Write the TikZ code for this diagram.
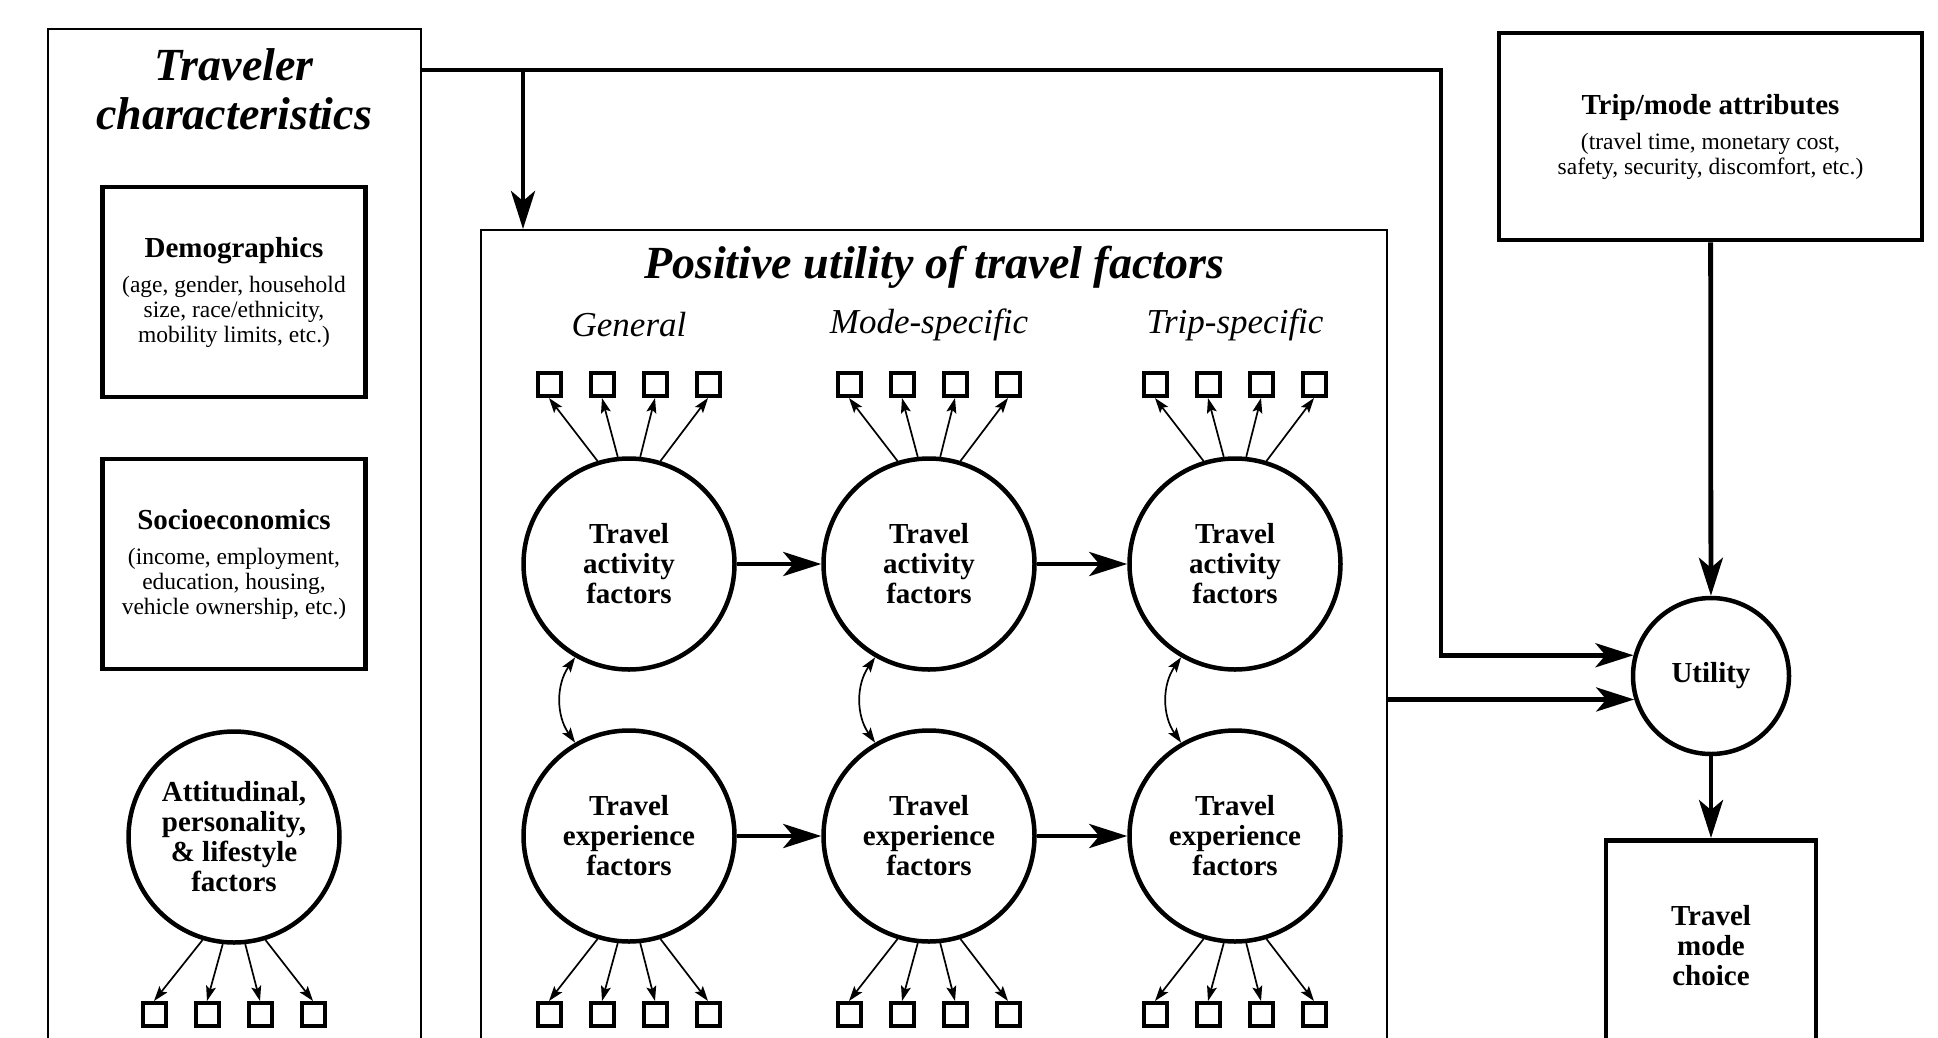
\documentclass[tikz,border=0pt]{standalone}
\usepackage{fontspec}
\setmainfont{Liberation Serif}
\usetikzlibrary{arrows.meta, positioning, calc}

\newcommand{\boxhead}{\fontsize{29}{30}\selectfont\bfseries}
\newcommand{\boxsub}{\fontsize{23.5}{25}\selectfont}
\newcommand{\bigtitle}{\fontsize{46}{49}\selectfont\bfseries\itshape}
\newcommand{\coltitle}{\fontsize{35}{40}\selectfont\itshape}

\tikzset{
  outerbox/.style={draw, line width=2pt, inner sep=0pt},
  factorbox/.style={draw, line width=4.5pt, align=center, font=\boxsub, inner sep=4pt},
  latent/.style={circle, draw, line width=4.5pt, minimum size=211pt, align=center, font=\boxhead, inner sep=0pt},
  indic/.style={draw, line width=4pt, minimum size=23pt, inner sep=0pt},
  flow/.style={line width=4.8pt, -{Stealth[length=38pt, width=24pt, inset=10pt]}},
  load/.style={line width=1.7pt, -{Stealth[length=15pt, width=10pt, inset=3pt]}},
  corr/.style={line width=1.7pt, {Stealth[length=15pt, width=10pt, inset=3pt]}-{Stealth[length=15pt, width=10pt, inset=3pt]}},
}

\begin{document}
\begin{tikzpicture}[x=1pt, y=-1pt]
    \useasboundingbox (0,0) rectangle (1938,1037);
    \clip (0,0) rectangle (1938,1037);

    % Traveler characteristics
    \node[outerbox, minimum width=373pt, minimum height=1100pt, anchor=north west] (trav) at (47,28) {};
    \node[font=\bigtitle, align=center] (travtitle) at (234,89) {Traveler\\characteristics};
    \node[factorbox, minimum width=263pt, minimum height=210pt] (demo) at (234,292)
        {{\boxhead Demographics}\\[10pt](age, gender, household\\size, race/ethnicity,\\mobility limits, etc.)};
    \node[factorbox, minimum width=263pt, minimum height=210pt] (socio) at (234,564)
        {{\boxhead Socioeconomics}\\[10pt](income, employment,\\education, housing,\\vehicle ownership, etc.)};
    \node[latent] (att) at (234,837) {Attitudinal,\\personality,\\\& lifestyle\\factors};
    \foreach \i/\dx/\ang in {1/-80/253, 2/-27/264, 3/26/276, 4/79/287} {
        \node[indic] (att-\i) at ({234+\dx},1014.5) {};
        \draw[load] (att.\ang) -- (att-\i.north);
    }

    % Positive utility of travel
    \node[outerbox, minimum width=906pt, minimum height=900pt, anchor=north west] (pos) at (480,229) {};
    \node[font=\bigtitle] (postitle) at (934,267) {Positive utility of travel factors};
    \foreach \c/\cx/\lab in {1/629/General, 2/929/Mode-specific, 3/1235/Trip-specific} {
        \node[font=\coltitle] (col\c) at (\cx,325) {\lab};
        \node[latent] (a\c) at (\cx,564) {Travel\\activity\\factors};
        \node[latent] (e\c) at (\cx,836) {Travel\\experience\\factors};
        \draw[corr] (a\c.240) to[bend right=35] (e\c.120);
        \foreach \i/\dx/\up/\dn in {1/-80/107/253, 2/-27/96/264, 3/26/84/276, 4/79/73/287} {
            \node[indic] (a\c-\i) at ({\cx+\dx},384.5) {};
            \node[indic] (e\c-\i) at ({\cx+\dx},1014.5) {};
            \draw[load] (a\c.\up) -- (a\c-\i.south);
            \draw[load] (e\c.\dn) -- (e\c-\i.north);
        }
    }
    \draw[flow] (a1) -- (a2);
    \draw[flow] (a2) -- (a3);
    \draw[flow] (e1) -- (e2);
    \draw[flow] (e2) -- (e3);

    % Trip side and choice
    \node[factorbox, minimum width=423pt, minimum height=207pt] (trip) at (1710.5,136.5)
        {{\boxhead Trip/mode attributes}\\[10pt](travel time, monetary cost,\\safety, security, discomfort, etc.)};
    \node[latent, minimum size=156pt] (util) at (1711,676) {Utility};
    \node[factorbox, font=\boxhead, minimum width=210pt, minimum height=210pt, anchor=north] (choice) at (1711,838) {Travel\\mode\\choice};

    % Connectors
    \coordinate (branch) at (523,70);
    \coordinate (corner) at (1441,70);
    \draw[flow] (trav.east |- corner) -- (corner) |- (util.165);
    \draw[flow] (branch) -- (branch |- pos.north);
    \draw[flow] (pos.east |- util.197) -- (util.197);
    \draw[flow] (trip) -- (util);
    \draw[flow] (util) -- (choice);
\end{tikzpicture}
\end{document}
